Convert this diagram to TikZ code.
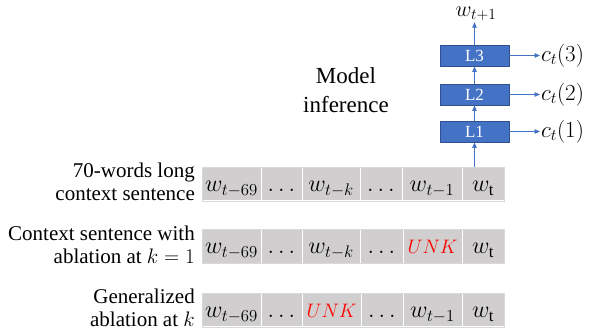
\RequirePackage{fix-cm}
\documentclass[tikz,border=0pt]{standalone}
\usepackage{fontspec}
\setmainfont{Liberation Serif}
\usetikzlibrary{arrows.meta}
\definecolor{cellgray}{HTML}{D0CECE}
\definecolor{framegray}{HTML}{D9D9D9}
\definecolor{blockblue}{HTML}{4472C4}
\definecolor{blockedge}{HTML}{2F528F}
\definecolor{unkred}{HTML}{FF0000}
\newcommand{\unkword}{{\fontsize{19.5}{22}\selectfont$\color{unkred}UNK$}}
\tikzset{
  cell/.style={rectangle, fill=cellgray, draw=white, line width=1pt, minimum height=34pt, inner sep=0pt, text height=17pt, text depth=2pt, font=\fontsize{24}{28}\selectfont},
  frame/.style={draw=framegray, line width=0.8pt, fill=none},
  rowlabel/.style={anchor=east, align=right, inner sep=0pt, font=\rmfamily\fontsize{21}{23}\selectfont},
  layer/.style={rectangle, fill=blockblue, draw=blockedge, line width=0.8pt, minimum width=69pt, minimum height=21pt, inner sep=0pt, text=white, font=\rmfamily\fontsize{17}{19}\selectfont},
  flow/.style={draw=blockblue, line width=0.8pt, -{Triangle[length=5.5pt,width=4.5pt]}},
  outlabel/.style={inner sep=1pt, font=\fontsize{23}{26}\selectfont}
}
\begin{document}
\begin{tikzpicture}[x=1pt,y=-1pt]
\useasboundingbox (0,0) rectangle (590,336);
% row 1
\node[cell, minimum width=59pt] (a1) at (231.5,184) {$w_{t-69}$};
\node[cell, minimum width=41pt] (a2) at (281.5,184) {$\dots$};
\node[cell, minimum width=58pt] (a3) at (331,184) {$w_{t-k}$};
\node[cell, minimum width=42pt] (a4) at (381,184) {$\dots$};
\node[cell, minimum width=60pt] (a5) at (432,184) {$w_{t-1}$};
\node[cell, minimum width=42pt] (a6) at (483,184) {$w_{\mathrm{t}}$};
\node[frame, minimum width=302pt, minimum height=34pt, inner sep=0pt] (r1) at (353,184) {};
% row 2
\node[cell, minimum width=59pt] (b1) at (231.5,246.5) {$w_{t-69}$};
\node[cell, minimum width=41pt] (b2) at (281.5,246.5) {$\dots$};
\node[cell, minimum width=58pt] (b3) at (331,246.5) {$w_{t-k}$};
\node[cell, minimum width=43pt] (b4) at (381.5,246.5) {$\dots$};
\node[cell, minimum width=59pt] (b5) at (432.5,246.5) {\unkword};
\node[cell, minimum width=42pt] (b6) at (483,246.5) {$w_{\mathrm{t}}$};
\node[frame, minimum width=302pt, minimum height=34pt, inner sep=0pt] (r2) at (353,246.5) {};
% row 3
\node[cell, minimum width=59pt] (c1) at (231.5,310) {$w_{t-69}$};
\node[cell, minimum width=41pt] (c2) at (281.5,310) {$\dots$};
\node[cell, minimum width=59pt] (c3) at (331.5,310) {\unkword};
\node[cell, minimum width=42pt] (c4) at (382,310) {$\dots$};
\node[cell, minimum width=59pt] (c5) at (432.5,310) {$w_{t-1}$};
\node[cell, minimum width=42pt] (c6) at (483,310) {$w_{\mathrm{t}}$};
\node[frame, minimum width=302pt, minimum height=34pt, inner sep=0pt] (r3) at (353,310) {};
% row labels
\node[rowlabel] (lab1) at (195,181.5) {70-words long\\context sentence};
\node[rowlabel] (lab2) at (195,244.4) {Context sentence with\\ablation at $k=1$};
\node[rowlabel] (lab3) at (195,307.9) {Generalized\\ablation at $k$};
% model inference
\node[align=center, inner sep=0pt, font=\rmfamily\fontsize{23}{29}\selectfont] (mi) at (346,89.7) {Model\\inference};
% layers
\node[layer] (L1) at (474.5,131.5) {L1};
\node[layer] (L2) at (474.5,94.5) {L2};
\node[layer] (L3) at (474.5,55.5) {L3};
\node[outlabel, anchor=west] (o1) at (540,131.5) {$c_t(1)$};
\node[outlabel, anchor=west] (o2) at (540,94.5) {$c_t(2)$};
\node[outlabel, anchor=west] (o3) at (540,55.5) {$c_t(3)$};
\node[outlabel, anchor=base, font=\fontsize{22}{26}\selectfont] (top) at (476,16.5) {$w_{t+1}$};
% connectors
\draw[flow] (L1.south |- r1.north) -- (L1.south);
\draw[flow] (L1.north) -- (L2.south);
\draw[flow] (L2.north) -- (L3.south);
\draw[flow] (L3.north) -- (L3.north |- top.south);
\draw[flow] (L1.east) -- (o1.west);
\draw[flow] (L2.east) -- (o2.west);
\draw[flow] (L3.east) -- (o3.west);
\end{tikzpicture}
\end{document}
